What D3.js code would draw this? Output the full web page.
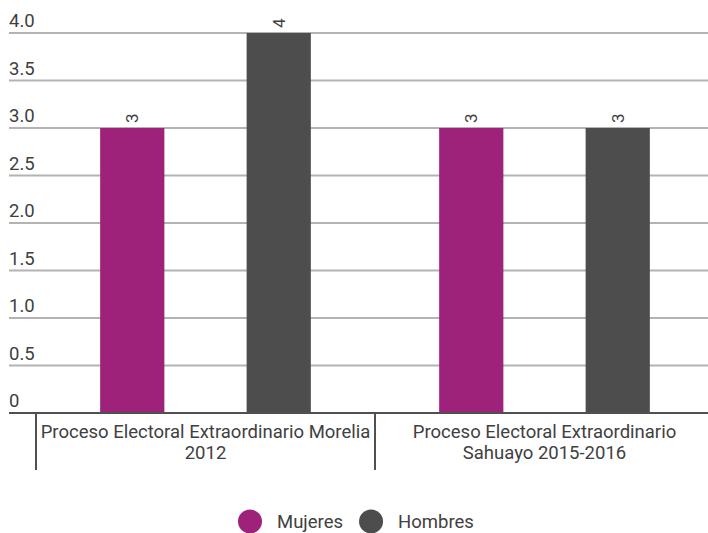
<!DOCTYPE html>
<html lang="es">
<head>
<meta charset="UTF-8"/>
<title>Participación por proceso electoral</title>
<script src="https://d3js.org/d3.v7.min.js"></script>
<style>
    body { margin: 0; background: #fff; }
    text { font-family: Roboto, "Noto Sans", Arial, sans-serif; fill: #404040; }
    .grid line { stroke: #b3b3b3; stroke-width: 2px; }
</style>
</head>
<body>
<svg id="chart" width="708" height="533"></svg>
<script>
    // data
    var categories = ["Proceso Electoral Extraordinario Morelia 2012",
        "Proceso Electoral Extraordinario Sahuayo 2015-2016"];
    var categoryLines = [["Proceso Electoral Extraordinario Morelia", "2012"],
        ["Proceso Electoral Extraordinario", "Sahuayo 2015-2016"]];
    var seriesNames = ["Mujeres", "Hombres"];
    var mujeres = [3, 3];
    var hombres = [4, 3];
    var yTicks = [0, 0.5, 1, 1.5, 2, 2.5, 3, 3.5, 4];
    var colors = ["#9e2279", "#4d4d4d"];

    var fontSize = "18.5px";
    var svg = d3.select("#chart");

    var y = d3.scaleLinear().domain([0, 4]).range([413, 33]);
    var x0 = d3.scaleBand().domain(categories).range([36, 714]).padding(0);
    var x1 = d3.scaleBand().domain(seriesNames).range([0, x0.bandwidth()])
        .paddingInner(0.5616).paddingOuter(0.438);
    var color = d3.scaleOrdinal().domain(seriesNames).range(colors);

    // gridlines + labels
    var grid = svg.append("g").attr("class", "grid");
    grid.selectAll("line")
        .data(yTicks.filter(function (d) { return d > 0; }))
        .enter().append("line")
        .attr("x1", 9).attr("x2", 708)
        .attr("y1", function (d) { return y(d); })
        .attr("y2", function (d) { return y(d); });
    svg.append("g").selectAll("text")
        .data(yTicks)
        .enter().append("text")
        .attr("x", 9)
        .attr("y", function (d) { return y(d) - 6; })
        .style("font-size", fontSize)
        .text(function (d) { return d === 0 ? "0" : d3.format(".1f")(d); });

    // bars
    var rows = categories.map(function (c, i) {
        return {cat: c, values: [
            {name: "Mujeres", value: mujeres[i]},
            {name: "Hombres", value: hombres[i]}
        ]};
    });

    var groups = svg.append("g").selectAll("g")
        .data(rows)
        .enter().append("g")
        .attr("transform", function (d) { return "translate(" + x0(d.cat) + ",0)"; });

    groups.selectAll("rect")
        .data(function (d) { return d.values; })
        .enter().append("rect")
        .attr("x", function (d) { return x1(d.name); })
        .attr("y", function (d) { return y(d.value); })
        .attr("width", x1.bandwidth())
        .attr("height", function (d) { return y(0) - y(d.value); })
        .attr("fill", function (d) { return color(d.name); });

    groups.selectAll("text")
        .data(function (d) { return d.values; })
        .enter().append("text")
        .attr("transform", function (d) {
            return "translate(" + (x1(d.name) + x1.bandwidth() / 2) + "," + (y(d.value) - 5) + ")rotate(-90)";
        })
        .attr("dy", "0.35em")
        .style("font-size", "17px")
        .text(function (d) { return d.value; });

    // x axis
    svg.append("line")
        .attr("x1", 9).attr("x2", 708)
        .attr("y1", y(0)).attr("y2", y(0))
        .attr("stroke", "#505050").attr("stroke-width", 2);

    var bounds = categories.map(function (c) { return x0(c); }).concat([x0.range()[1]]);
    svg.append("g").selectAll("line")
        .data(bounds)
        .enter().append("line")
        .attr("x1", function (d) { return d; }).attr("x2", function (d) { return d; })
        .attr("y1", y(0)).attr("y2", 470)
        .attr("stroke", "#505050").attr("stroke-width", 2);

    var catLabels = svg.append("g").selectAll("text")
        .data(categories)
        .enter().append("text")
        .attr("text-anchor", "middle")
        .style("font-size", fontSize);
    catLabels.each(function (c, i) {
        var t = d3.select(this);
        categoryLines[i].forEach(function (line, j) {
            t.append("tspan")
                .attr("x", x0(c) + x0.bandwidth() / 2)
                .attr("y", 438 + j * 21)
                .text(line);
        });
    });

    // legend
    var legend = svg.append("g");
    var lx = 238;
    seriesNames.forEach(function (name) {
        legend.append("circle")
            .attr("cx", lx + 12).attr("cy", 521.5).attr("r", 12)
            .attr("fill", color(name));
        var t = legend.append("text")
            .attr("x", lx + 39).attr("y", 528)
            .style("font-size", fontSize)
            .text(name);
        lx = lx + 39 + t.node().getComputedTextLength() + 16;
    });
</script>
</body>
</html>
